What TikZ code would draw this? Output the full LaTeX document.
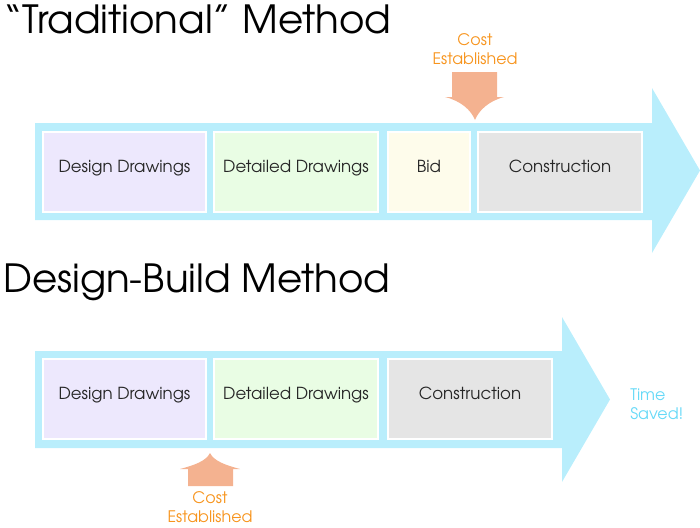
\documentclass[tikz,border=0pt]{standalone}
\usepackage{fontspec}
\setmainfont{texgyreadventor}[Extension=.otf, UprightFont=*-regular, BoldFont=*-bold]

\definecolor{flow}{HTML}{B9EEFC}
\definecolor{designfill}{HTML}{EDE8FD}
\definecolor{detailfill}{HTML}{E9FDE4}
\definecolor{bidfill}{HTML}{FEFCEB}
\definecolor{buildfill}{HTML}{E5E5E5}
\definecolor{costarrow}{HTML}{F4B290}
\definecolor{costorange}{HTML}{F7941D}
\definecolor{savedcyan}{HTML}{66D9F7}

\begin{document}
\begin{tikzpicture}[x=0.025cm, y=-0.025cm,
    stagebox/.style={draw=white, line width=1.6pt, minimum height=2cm,
        text height=0.3cm, text depth=0.3cm, text=black!85,
        font=\fontsize{11.8}{14}\selectfont},
    title/.style={anchor=base west, inner sep=0pt, font=\fontsize{27.6}{30}\selectfont},
    costtext/.style={text=costorange, align=center, inner sep=0pt,
        font=\fontsize{11.3}{13.7}\selectfont}]
    \useasboundingbox (0,0) rectangle (700,528);

    \node[title] (ttitle) at (3,33) {“Traditional” Method};

    \fill[flow] (35,123) -- (652,123) -- (652,88) -- (700,170.5) -- (652,253)
        -- (652,220) -- (35,220) -- cycle;

    \node[stagebox, fill=designfill, minimum width=4.07cm] (tdesign) at (124.5,172) {Design Drawings};
    \node[stagebox, fill=detailfill, minimum width=4.1cm] (tdetail) at (296,172) {Detailed Drawings};
    \node[stagebox, fill=bidfill, minimum width=2.05cm] (tbid) at (429,172) {Bid};
    \node[stagebox, fill=buildfill, minimum width=4.1cm] (tbuild) at (560,172) {Construction};

    \fill[costarrow] (452,72) -- (497,72) -- (497,97) -- (504,97)
        .. controls (489,101) and (479,110) .. (475,120)
        .. controls (471,110) and (461,101) .. (445,97) -- (452,97) -- cycle;
    \node[costtext] (tcost) at (475,49) {Cost\\Established};

    \node[title] (dtitle) at (3,292) {Design-Build Method};

    \fill[flow] (35,351) -- (562,351) -- (562,317) -- (610,399.5) -- (562,482)
        -- (562,448) -- (35,448) -- cycle;

    \node[stagebox, fill=designfill, minimum width=4.07cm] (ddesign) at (124.5,399) {Design Drawings};
    \node[stagebox, fill=detailfill, minimum width=4.1cm] (ddetail) at (296,399) {Detailed Drawings};
    \node[stagebox, fill=buildfill, minimum width=4.1cm] (dbuild) at (470,399) {Construction};

    \fill[costarrow] (188,486) -- (233,486) -- (233,469) -- (240,469)
        .. controls (225,465) and (214,461) .. (210,453)
        .. controls (206,461) and (195,465) .. (180,469) -- (188,469) -- cycle;
    \node[costtext] (dcost) at (210,507) {Cost\\Established};

    \node[costtext, text=savedcyan, align=left, anchor=west] (saved) at (630,404) {Time\\Saved!};
\end{tikzpicture}
\end{document}
